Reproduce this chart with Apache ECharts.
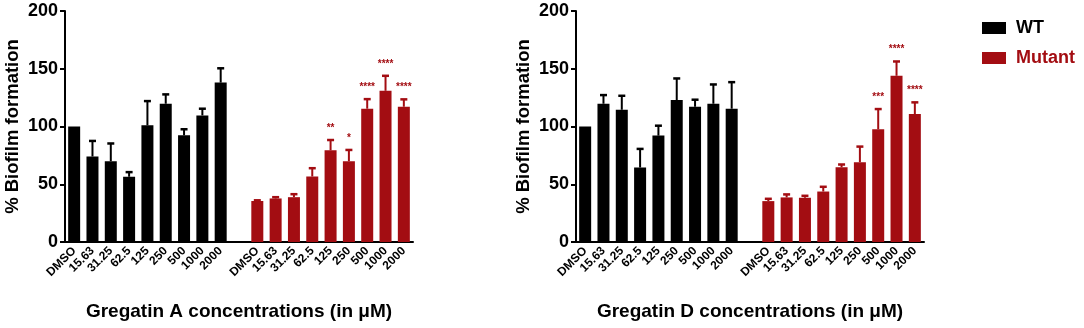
<!DOCTYPE html>
<html>
<head>
<meta charset="utf-8">
<script src="https://cdn.jsdelivr.net/npm/echarts@6/dist/echarts.min.js"></script>
<style>
    html, body { margin: 0; padding: 0; background: #fff; }
    #chart-box { width: 1084px; height: 328px; }
</style>
</head>
<body>
<div id="chart-box"></div>
<script>
    // concentrations (uM)
    const concs = ['DMSO', '15.63', '31.25', '62.5', '125', '250', '500', '1000', '2000'];
    const yTicks = [0, 50, 100, 150, 200];

    // Gregatin A
    const wtA = [100, 74, 70, 56.5, 101, 119.7, 92.4, 109.6, 138];
    const wtAErr = [0, 13.5, 15.3, 4, 21, 8.1, 5.2, 5.8, 12.4];
    const mutA = [35.5, 37.7, 38.8, 56.7, 79.4, 69.9, 115.4, 130.9, 117.1];
    const mutAErr = [0.6, 1.1, 2.6, 7.2, 8.9, 9.8, 8.3, 13, 6.4];
    const starsA = ['', '', '', '', '**', '*', '****', '****', '****'];

    // Gregatin D
    const wtD = [100, 119.7, 114.5, 64.5, 92.1, 122.9, 117.1, 119.7, 115.4];
    const wtDErr = [0, 7.5, 12.1, 16.1, 8.6, 18.7, 6.1, 16.7, 23];
    const mutD = [35.4, 38.6, 38.3, 43.7, 64.7, 69.1, 97.6, 143.9, 110.8];
    const mutDErr = [2, 2.6, 1.7, 4.1, 2.4, 13.5, 17.5, 12.4, 10.1];
    const starsD = ['', '', '', '', '', '', '***', '****', '****'];

    const BLACK = '#000000';
    const RED = '#a30d12';
    const FONT = '"Liberation Sans", Arial, sans-serif';

    // 9 WT slots, one empty slot, 9 mutant slots
    const cats = concs.concat(['']).concat(concs);
    const pad = new Array(concs.length + 1).fill('-');

    function errData(offset, vals, errs, stars) {
        return vals.map(function (v, i) {
            return [offset + i, v, errs[i], stars[i]];
        });
    }

    function renderErr(color) {
        return function (params, api) {
            const idx = api.value(0);
            const v = api.value(1);
            const e = api.value(2);
            const star = api.value(3);
            const base = api.coord([idx, v]);
            const top = api.coord([idx, v + e]);
            const kids = [];
            if (e > 0) {
                kids.push({
                    type: 'line',
                    shape: {x1: base[0], y1: base[1], x2: top[0], y2: top[1]},
                    style: {stroke: color, lineWidth: 2}
                });
                kids.push({
                    type: 'line',
                    shape: {x1: top[0] - 3.5, y1: top[1], x2: top[0] + 3.5, y2: top[1]},
                    style: {stroke: color, lineWidth: 2.5}
                });
            }
            if (star) {
                kids.push({
                    type: 'text',
                    style: {
                        text: star, x: top[0], y: top[1] - 7,
                        align: 'center', verticalAlign: 'bottom',
                        fill: RED, font: 'bold 10px ' + FONT
                    }
                });
            }
            return {type: 'group', children: kids};
        };
    }

    function xAxisFor(gridIndex, name) {
        return {
            type: 'category',
            gridIndex: gridIndex,
            data: cats,
            boundaryGap: true,
            axisLine: {lineStyle: {color: BLACK, width: 2}},
            axisTick: {
                alignWithLabel: true,
                length: 6,
                lineStyle: {color: BLACK, width: 2},
                interval: function (i, v) { return v !== ''; }
            },
            axisLabel: {
                interval: 0, rotate: 45, margin: 7,
                color: BLACK, fontWeight: 'bold', fontSize: 12, fontFamily: FONT
            },
            name: name,
            nameLocation: 'middle',
            nameGap: 60,
            nameTextStyle: {color: BLACK, fontWeight: 'bold', fontSize: 19, fontFamily: FONT}
        };
    }

    function yAxisFor(gridIndex) {
        return {
            type: 'value',
            gridIndex: gridIndex,
            min: yTicks[0],
            max: yTicks[yTicks.length - 1],
            interval: 50,
            splitLine: {show: false},
            axisLine: {show: true, lineStyle: {color: BLACK, width: 2}},
            axisTick: {show: true, length: 5, lineStyle: {color: BLACK, width: 2}},
            axisLabel: {color: BLACK, fontWeight: 'bold', fontSize: 18, fontFamily: FONT, margin: 7},
            name: '% Biofilm formation',
            nameLocation: 'middle',
            nameGap: 43,
            nameTextStyle: {color: BLACK, fontWeight: 'bold', fontSize: 18.5, fontFamily: FONT}
        };
    }

    function barsFor(gridIndex, wt, mut) {
        return [
            {
                name: 'WT', type: 'bar', xAxisIndex: gridIndex, yAxisIndex: gridIndex,
                data: wt.concat(pad), barWidth: 12, barGap: '-100%',
                itemStyle: {color: BLACK}
            },
            {
                name: 'Mutant', type: 'bar', xAxisIndex: gridIndex, yAxisIndex: gridIndex,
                data: pad.concat(mut), barWidth: 12, barGap: '-100%',
                itemStyle: {color: RED}
            }
        ];
    }

    function errsFor(gridIndex, wt, wtErr, mut, mutErr, stars) {
        return [
            {
                type: 'custom', xAxisIndex: gridIndex, yAxisIndex: gridIndex, z: 3,
                renderItem: renderErr(BLACK),
                data: errData(0, wt, wtErr, concs.map(function () { return ''; }))
            },
            {
                type: 'custom', xAxisIndex: gridIndex, yAxisIndex: gridIndex, z: 3,
                renderItem: renderErr(RED),
                data: errData(concs.length + 1, mut, mutErr, stars)
            }
        ];
    }

    let option = {
        animation: false,
        backgroundColor: '#fff',
        legend: {
            orient: 'vertical',
            left: 977, top: 14,
            itemWidth: 24, itemHeight: 12, itemGap: 12,
            icon: 'rect',
            textStyle: {fontWeight: 'bold', fontSize: 18, fontFamily: FONT, padding: [0, 0, 0, 5]},
            data: [
                {name: 'WT', textStyle: {color: BLACK}},
                {name: 'Mutant', textStyle: {color: RED}}
            ]
        },
        grid: [
            {left: 65, top: 11, width: 348, bottom: 86},
            {left: 576, top: 11, width: 348, bottom: 86}
        ],
        xAxis: [
            xAxisFor(0, 'Gregatin A concentrations (in \u03bcM)'),
            xAxisFor(1, 'Gregatin D concentrations (in \u03bcM)')
        ],
        yAxis: [yAxisFor(0), yAxisFor(1)],
        series: []
            .concat(barsFor(0, wtA, mutA))
            .concat(barsFor(1, wtD, mutD))
            .concat(errsFor(0, wtA, wtAErr, mutA, mutAErr, starsA))
            .concat(errsFor(1, wtD, wtDErr, mutD, mutDErr, starsD))
    };

    let chart = echarts.init(document.getElementById('chart-box'));
    chart.setOption(option);
</script>
</body>
</html>
